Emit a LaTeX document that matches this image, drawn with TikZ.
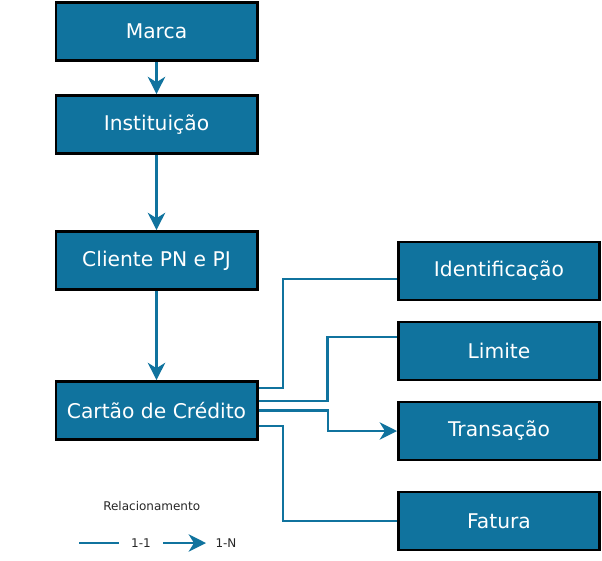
\documentclass[tikz,border=0pt]{standalone}
\usepackage{fontspec}
\setmainfont{DejaVu Sans}
\usetikzlibrary{arrows.meta,calc}
\definecolor{boxblue}{HTML}{10739E}
\begin{document}
\begin{tikzpicture}[x=0.75pt,y=-0.75pt,
  entity/.style={draw=black,line width=2pt,fill=boxblue,text=white,
    minimum width=151pt,minimum height=43.5pt,inner sep=0pt,
    font=\fontsize{15.2}{17}\selectfont},
  link/.style={draw=boxblue,line width=1.8pt},
  many/.style={link,-{Stealth[length=13pt,width=13pt,inset=4pt]}},
  legtext/.style={font=\fontsize{9}{11}\selectfont,text=black!85,inner sep=0pt}]
\useasboundingbox (0,0) rectangle (602,560);
\node[entity] (marca) at (156.5,31.5) {Marca};
\node[entity] (inst) at (156.5,124.5) {Instituição};
\node[entity] (cli) at (156.5,260.5) {Cliente PN e PJ};
\node[entity] (cartao) at (156.5,410.5) {Cartão de Crédito};
\node[entity] (ident) at (499,271) {Identificação};
\node[entity] (lim) at (499,351) {Limite};
\node[entity] (trans) at (499,431) {Transação};
\node[entity] (fat) at (499,521) {Fatura};
\draw[many] (marca) -- (inst);
\draw[many] (inst) -- (cli);
\draw[many] (cli) -- (cartao);
\draw[link] ([yshift=17.1pt]cartao.east) -- ++(24.7,0) |- ([yshift=-6.2pt]ident.west);
\draw[link] ([yshift=7.1pt]cartao.east) -- ++(69,0) |- ([yshift=10.7pt]lim.west);
\draw[many] (cartao.east) -- ++(69.7,0) |- (trans.west);
\draw[link] ([yshift=-11.6pt]cartao.east) -- ++(24.7,0) |- (fat.west);
\node[legtext] (rel) at (151.7,505.7) {Relacionamento};
\coordinate (la) at (79,543);
\coordinate (lb) at (119,543);
\node[legtext] (one) at (141,543) {1-1};
\coordinate (ma) at (163,543);
\coordinate (mb) at (206,543);
\node[legtext] (nn) at (226,543) {1-N};
\draw[link] (la) -- (lb);
\draw[many] (ma) -- (mb);
\end{tikzpicture}
\end{document}
